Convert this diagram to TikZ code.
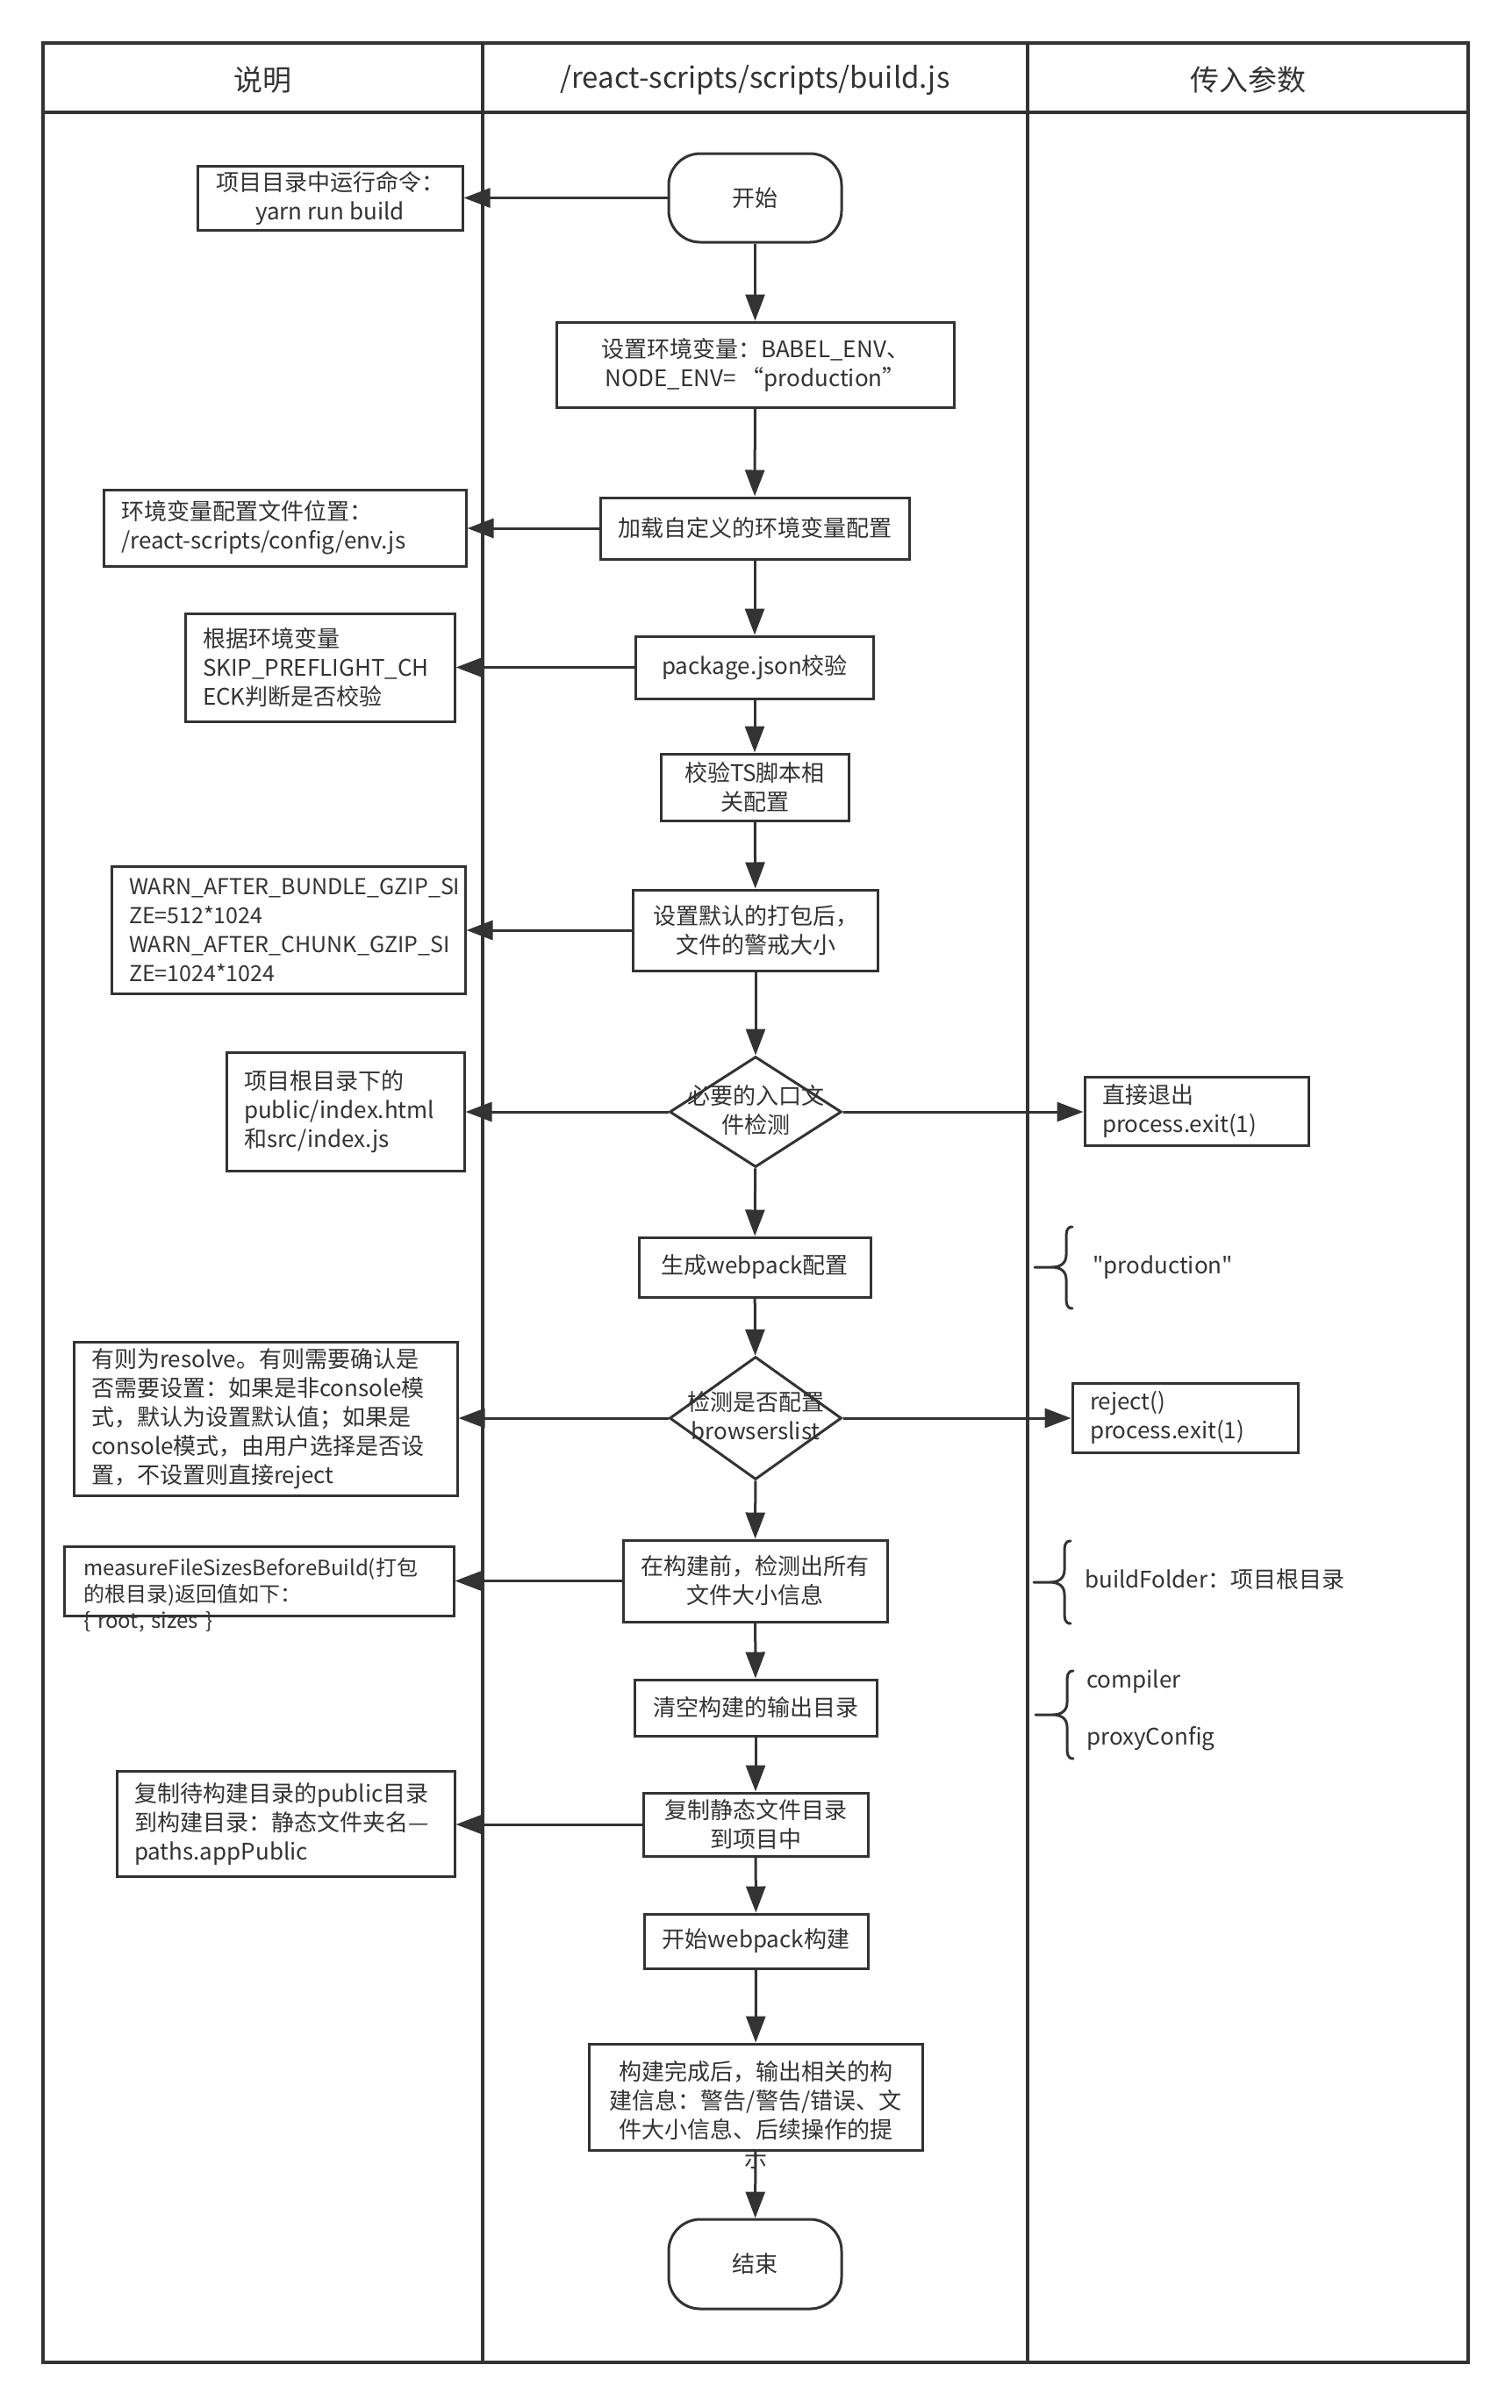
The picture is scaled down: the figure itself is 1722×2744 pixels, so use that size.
\documentclass[tikz,border=0pt]{standalone}
\usepackage{fontspec}
\setmainfont{Noto Sans CJK SC}[Ligatures=TeXOff]
\usetikzlibrary{arrows.meta,shapes.geometric,backgrounds}
\definecolor{ln}{HTML}{333333}
\newcommand{\dtext}[1]{\raisebox{-8pt}[0pt][0pt]{\makebox[0pt]{\begin{tabular}{@{}c@{}}#1\end{tabular}}}}
\newcommand{\spill}[3]{\raisebox{#1}[0pt][0pt]{\begin{tabular}[t]{@{}#2@{}}#3\end{tabular}}}
% curly bracket: x of its ends, top, tip, bottom, x of its tip
\newcommand{\pbrace}[5]{\draw[grp] (#1,#2) .. controls ({#1-7},#2) and ({#1-7},{#2+6}) .. ({#1-7},{#2+14}) -- ({#1-7},{#3-14}) .. controls ({#1-7},{#3-4}) and ({#1-14},#3) .. ({#1-24},#3) -- (#5,#3)
  (#1,#4) .. controls ({#1-7},#4) and ({#1-7},{#4-6}) .. ({#1-7},{#4-14}) -- ({#1-7},{#3+14}) .. controls ({#1-7},{#3+4}) and ({#1-14},#3) .. ({#1-24},#3);}

\begin{document}
\begin{tikzpicture}[x=1pt,y=-1pt, >={Triangle[length=30pt,width=22pt]},
  box/.style={draw=ln,line width=3pt,fill=white,inner sep=0pt,align=center,text=ln,font=\fontsize{26}{33}\selectfont},
  note/.style={box,align=left,inner xsep=20pt},
  term/.style={box,rounded corners=36pt,minimum width=197pt,minimum height=101pt},
  dia/.style={box,diamond,minimum width=196pt},
  lbl/.style={text=ln,font=\fontsize{26}{33}\selectfont,inner sep=0pt,anchor=west},
  head/.style={text=ln,font=\fontsize{33}{40}\selectfont},
  flow/.style={draw=ln,line width=3pt,->},
  grp/.style={draw=ln,line width=3pt,line cap=round,line join=round}]
\useasboundingbox (0,0) rectangle (1722,2744);
% lanes
\draw[ln,line width=4pt] (49,49) rectangle (1673,2692);
\draw[ln,line width=4pt] (49,128) -- (1673,128);
\draw[ln,line width=4pt] (550,49) -- (550,2692);
\draw[ln,line width=4pt] (1171,49) -- (1171,2692);
\node[head] (h1) at (299.5,91) {说明};
\node[head] (h2) at (860.5,91) {/react-scripts/scripts/build.js};
\node[head] (h3) at (1422,91) {传入参数};
% main flow
\node[term] (start) at (860.5,225.5) {开始};
\node[box,minimum width=453pt,minimum height=97pt] (env) at (860.5,415.5) {设置环境变量：BABEL\_ENV、\\NODE\_ENV= “production”};
\node[box,minimum width=352pt,minimum height=70pt] (load) at (860,602) {加载自定义的环境变量配置};
\node[box,minimum width=271pt,minimum height=71pt] (pkg) at (860,760.5) {package.json校验};
\node[box,minimum width=214pt,minimum height=76pt] (ts) at (860,897) {校验TS脚本相\\关配置};
\node[box,minimum width=279pt,minimum height=92pt] (size) at (861,1060) {设置默认的打包后，\\文件的警戒大小};
\node[dia,minimum height=126pt] (entry) at (861,1267) {\dtext{必要的入口文\\件检测}};
\node[box,minimum width=264pt,minimum height=68pt] (cfg) at (860,1444) {生成webpack配置};
\node[dia,minimum height=140pt] (blist) at (861,1616) {\dtext{检测是否配置\\browserslist}};
\node[box,minimum width=301pt,minimum height=93pt] (measure) at (860.5,1801.5) {在构建前，检测出所有\\文件大小信息};
\node[box,minimum width=276pt,minimum height=64pt] (clean) at (861,1946) {清空构建的输出目录};
\node[box,minimum width=256pt,minimum height=72pt] (copy) at (861,2079) {复制静态文件目录\\到项目中};
\node[box,minimum width=255pt,minimum height=62pt] (build) at (861.5,2212) {开始webpack构建};
\node[box,minimum width=380pt,minimum height=121pt] (done) at (861,2389.5) {\spill{19.5pt}{c}{构建完成后，输出相关的构\\建信息：警告/警告/错误、文\\件大小信息、后续操作的提\\示}};
\node[term,minimum height=102pt] (end) at (860.5,2580) {结束};
% notes
\node[box,minimum width=302pt,minimum height=73pt] (run) at (376,225.5) {项目目录中运行命令：\\yarn run build};
\node[note,text width=373pt,minimum height=87pt] (envfile) at (324.5,601.5) {环境变量配置文件位置：\\/react-scripts/config/env.js};
\node[note,text width=267pt,minimum height=123pt] (skip) at (364.5,760.5) {根据环境变量\\SKIP\_PREFLIGHT\_CH\\ECK判断是否校验};
\node[note,text width=363pt,minimum height=145pt,font=\fontsize{25}{33}\selectfont] (warn) at (328.5,1059.5) {WARN\_AFTER\_BUNDLE\_GZIP\_SI\\ZE=512*1024\\WARN\_AFTER\_CHUNK\_GZIP\_SI\\ZE=1024*1024};
\node[note,text width=231pt,minimum height=135pt] (html) at (393.5,1266.5) {项目根目录下的\\public/index.html\\和src/index.js};
\node[note,text width=397pt,minimum height=175pt] (resolve) at (302.5,1616.5) {有则为resolve。有则需要确认是\\否需要设置：如果是非console模\\式，默认为设置默认值；如果是\\console模式，由用户选择是否设\\置，不设置则直接reject};
\node[note,text width=400pt,inner xsep=22pt,minimum height=79pt,font=\fontsize{24}{30}\selectfont] (sizes) at (295,1801.5) {\spill{6.5pt}{l}{measureFileSizesBeforeBuild(打包\\的根目录)返回值如下：\\\{ root, sizes \}}};
\node[note,text width=345pt,minimum height=120pt] (pub) at (325.5,2078) {复制待构建目录的public目录\\到构建目录：静态文件夹名—\\paths.appPublic};
\node[note,text width=215pt,minimum height=78pt] (exit) at (1363.5,1266) {直接退出\\process.exit(1)};
\node[note,text width=217pt,minimum height=79pt] (reject) at (1350.5,1615.5) {reject()\\process.exit(1)};
% parameters
\pbrace{1222}{1398}{1444}{1491}{1179}
\node[lbl] (prod) at (1245,1444) {"production"};
\pbrace{1220}{1756}{1803}{1850}{1178}
\node[lbl] (folder) at (1236,1800) {buildFolder：项目根目录};
\pbrace{1223}{1904}{1954}{2004}{1180}
\node[lbl] (compiler) at (1238,1916) {compiler};
\node[lbl] (proxy) at (1238,1981) {proxyConfig};
\begin{scope}[on background layer]
\draw[flow] (start) -- (env);
\draw[flow] (env) -- (load);
\draw[flow] (load) -- (pkg);
\draw[flow] (pkg) -- (ts);
\draw[flow] (ts) -- (size);
\draw[flow] (size) -- (entry);
\draw[flow] (entry) -- (cfg);
\draw[flow] (cfg) -- (blist);
\draw[flow] (blist) -- (measure);
\draw[flow] (measure) -- (clean);
\draw[flow] (clean) -- (copy);
\draw[flow] (copy) -- (build);
\draw[flow] (build) -- (done);
\draw[flow] (done) -- (end);
\draw[flow] (start.west) -- (start.west -| run.east);
\draw[flow] (load.west) -- (load.west -| envfile.east);
\draw[flow] (pkg.west) -- (pkg.west -| skip.east);
\draw[flow] (size.west) -- (size.west -| warn.east);
\draw[flow] (entry.west) -- (entry.west -| html.east);
\draw[flow] (entry.east) -- (entry.east -| exit.west);
\draw[flow] (blist.west) -- (blist.west -| resolve.east);
\draw[flow] (blist.east) -- (blist.east -| reject.west);
\draw[flow] (measure.west) -- (measure.west -| sizes.east);
\draw[flow] (copy.west) -- (copy.west -| pub.east);
\end{scope}
\end{tikzpicture}
\end{document}
